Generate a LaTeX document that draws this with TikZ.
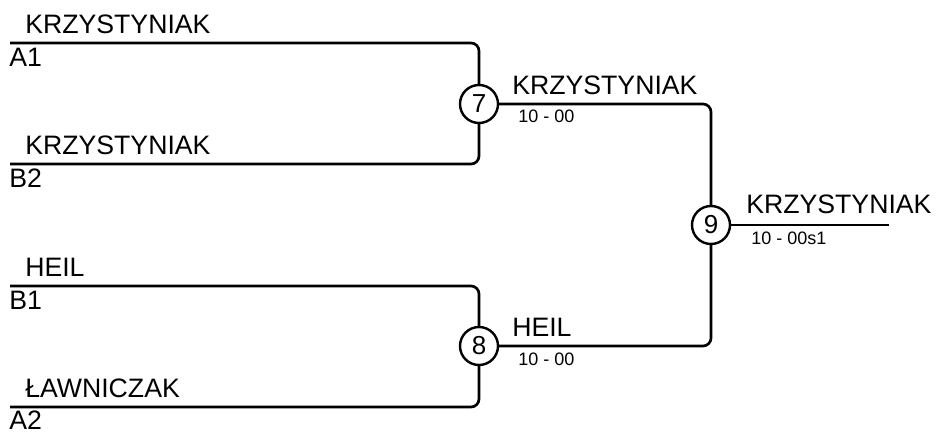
\documentclass[tikz,border=0pt]{standalone}
\usepackage{fontspec}
\setmainfont{Liberation Sans}
\begin{document}
\begin{tikzpicture}[x=0.75pt,y=-0.75pt,
  line/.style={line width=2pt,rounded corners=6pt},
  circ/.style={draw,circle,line width=1.8pt,minimum size=28.5pt,inner sep=0pt,font=\fontsize{19.5pt}{20pt}\selectfont},
  pname/.style={anchor=base west,inner sep=0pt,font=\fontsize{20pt}{22pt}\selectfont},
  seed/.style={anchor=base west,inner sep=0pt,font=\fontsize{20pt}{22pt}\selectfont},
  score/.style={anchor=base west,inner sep=0pt,font=\fontsize{13.5pt}{15pt}\selectfont}]
\useasboundingbox (0,0) rectangle (937,432);
% match nodes
\node[circ] (c7) at (479,104) {7};
\node[circ] (c8) at (479,346) {8};
\node[circ] (c9) at (711,225) {9};
% line starts
\coordinate (s1) at (10,43);
\coordinate (s2) at (10,164);
\coordinate (s3) at (10,286);
\coordinate (s4) at (10,407);
\coordinate (e9) at (889,225);
% connectors
\draw[line] (s1) -| (c7);
\draw[line] (s2) -| (c7);
\draw[line] (s3) -| (c8);
\draw[line] (s4) -| (c8);
\draw[line] (c7) -| (c9);
\draw[line] (c8) -| (c9);
\draw[line] (c9) -- (e9);
% round 1 names and seeds
\node[pname] (n1) at (25,33) {KRZYSTYNIAK};
\node[seed] (a1) at (9,66) {A1};
\node[pname] (n2) at (25,154) {KRZYSTYNIAK};
\node[seed] (b2) at (9,187) {B2};
\node[pname] (n3) at (25,276) {HEIL};
\node[seed] (b1) at (9,309) {B1};
\node[pname] (n4) at (25,397.5) {ŁAWNICZAK};
\node[seed] (a2) at (9,429.5) {A2};
% round 2
\node[pname] (w7) at (512,94) {KRZYSTYNIAK};
\node[score] (r7) at (518,122.5) {10 - 00};
\node[pname] (w8) at (512,336) {HEIL};
\node[score] (r8) at (518,365) {10 - 00};
% final
\node[pname] (w9) at (746,213.5) {KRZYSTYNIAK};
\node[score] (r9) at (751,244) {10 - 00s1};
\end{tikzpicture}
\end{document}
